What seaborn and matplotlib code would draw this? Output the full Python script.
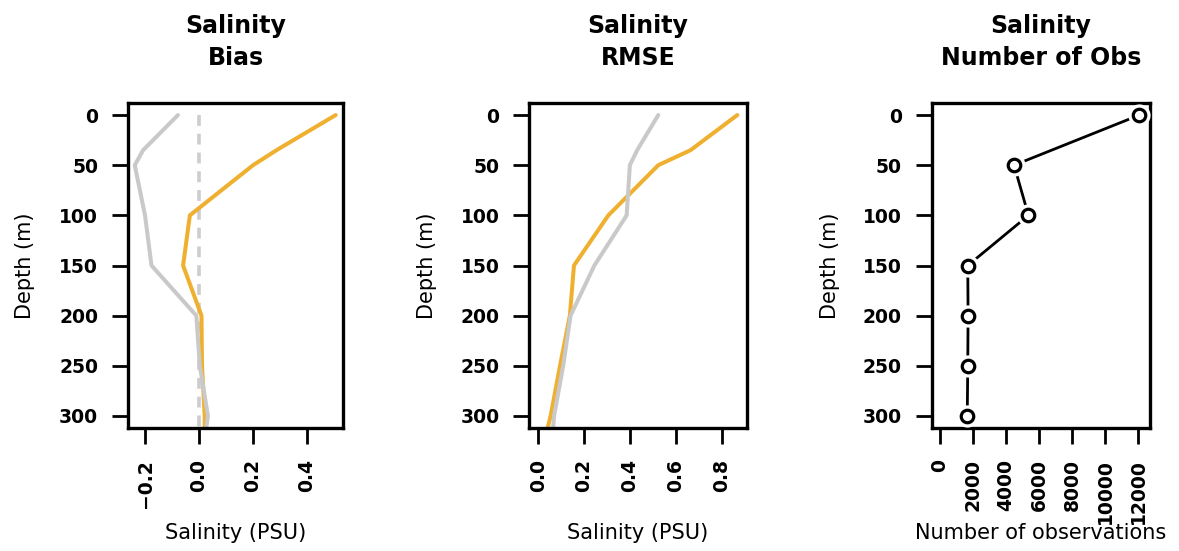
import numpy as np
import pandas as pd
import matplotlib
matplotlib.use("Agg")
import matplotlib.pyplot as plt
import seaborn as sns

# ---------------- data ----------------
depths = [0, 35, 50, 100, 150, 200, 250, 300, 350]
bias_orange = [0.506, 0.287, 0.200, -0.034, -0.059, 0.009, 0.011, 0.021, 0.020]
bias_gray = [-0.078, -0.207, -0.238, -0.200, -0.176, -0.010, 0.003, 0.033, 0.008]
rmse_orange = [0.869, 0.665, 0.524, 0.306, 0.156, 0.138, 0.095, 0.054, 0.000]
rmse_gray = [0.524, 0.432, 0.400, 0.386, 0.245, 0.141, 0.109, 0.069, 0.052]

obs_depths = [0, 50, 100, 150, 200, 250, 300]
obs_counts = [12060, 4480, 5350, 1680, 1700, 1680, 1650]

depth_ticks = [0, 50, 100, 150, 200, 250, 300]
bias_ticks = [-0.2, 0.0, 0.2, 0.4]
bias_ticklabels = ["\u22120.2", "0.0", "0.2", "0.4"]
rmse_ticks = [0.0, 0.2, 0.4, 0.6, 0.8]
rmse_ticklabels = ["0.0", "0.2", "0.4", "0.6", "0.8"]
obs_ticks = [0, 2000, 4000, 6000, 8000, 10000, 12000]
obs_ticklabels = ["0", "2000", "4000", "6000", "8000", "10000", "12000"]

titles = ["Salinity\nBias", "Salinity\nRMSE", "Salinity\nNumber of Obs"]
xlabels = ["Salinity (PSU)", "Salinity (PSU)", "Number of observations"]
ylabel = "Depth (m)"

ORANGE = "#EFB030"
GRAY = "#C9C9C9"

# ---------------- figure ----------------
sns.set_theme(style="white")
plt.rcParams["font.family"] = ["DejaVu Sans"]

W, H = 1179, 551
fig = plt.figure(figsize=(W / 100, H / 100), dpi=100)

boxes = [(128, 343), (529.3, 746.7), (931.7, 1150)]
top_px, bot_px = 103, 428
axes = []
for (l, r) in boxes:
    ax = fig.add_axes([l / W, 1 - bot_px / H, (r - l) / W, (bot_px - top_px) / H])
    axes.append(ax)

df = pd.DataFrame({
    "depth": depths,
    "bias_orange": bias_orange,
    "bias_gray": bias_gray,
    "rmse_orange": rmse_orange,
    "rmse_gray": rmse_gray,
})
dfo = pd.DataFrame({"depth": obs_depths, "count": obs_counts})
zero_ref = pd.DataFrame({"x": [0.0, 0.0], "depth": [depths[0], depths[-1]]})

LW = 2.9
# Panel 1: Bias
ax = axes[0]
sns.lineplot(data=zero_ref, x="x", y="depth", orient="y", sort=False, estimator=None,
             ax=ax, color="#CDCDCD", linewidth=2.6, linestyle=(0, (3.0, 2.2)))
sns.lineplot(data=df, x="bias_orange", y="depth", orient="y", sort=False, estimator=None,
             ax=ax, color=ORANGE, linewidth=LW)
sns.lineplot(data=df, x="bias_gray", y="depth", orient="y", sort=False, estimator=None,
             ax=ax, color=GRAY, linewidth=LW)
ax.set_xlim(-0.263, 0.533)
ax.set_xticks(bias_ticks)
ax.set_xticklabels(bias_ticklabels)

# Panel 2: RMSE
ax = axes[1]
sns.lineplot(data=df, x="rmse_orange", y="depth", orient="y", sort=False, estimator=None,
             ax=ax, color=ORANGE, linewidth=LW)
sns.lineplot(data=df, x="rmse_gray", y="depth", orient="y", sort=False, estimator=None,
             ax=ax, color=GRAY, linewidth=LW)
ax.set_xlim(-0.039, 0.91)
ax.set_xticks(rmse_ticks)
ax.set_xticklabels(rmse_ticklabels)

# Panel 3: Number of obs
ax = axes[2]
sns.lineplot(data=dfo, x="count", y="depth", orient="y", sort=False, estimator=None,
             ax=ax, color="black", linewidth=2.0, zorder=2)
sns.scatterplot(data=dfo, x="count", y="depth", ax=ax, s=16 ** 2, color="white",
                linewidth=0, zorder=3)
sns.scatterplot(data=dfo, x="count", y="depth", ax=ax, s=9 ** 2, facecolor="white",
                edgecolor="black", linewidth=2.3, zorder=4)
ax.set_xlim(-500, 12700)
ax.set_xticks(obs_ticks)
ax.set_xticklabels(obs_ticklabels)

for i, ax in enumerate(axes):
    ax.set_ylim(312, -12)
    ax.set_yticks(depth_ticks)
    ax.set_yticklabels([str(d) for d in depth_ticks])
    for s in ax.spines.values():
        s.set_visible(True)
        s.set_color("black")
        s.set_linewidth(2.4)
    ax.tick_params(axis="both", direction="out", length=11.5, width=2.0, color="black",
                   labelsize=13.5, labelcolor="black", pad=10,
                   bottom=True, left=True, top=False, right=False)
    ax.tick_params(axis="x", labelrotation=90, pad=11)
    for t in ax.get_xticklabels():
        t.set_fontweight("bold")
    for t in ax.get_yticklabels():
        t.set_fontweight("bold")
    ax.set_xlabel(xlabels[i], fontsize=15, color="black")
    ax.set_ylabel(ylabel, fontsize=15, color="black")
    l, r = boxes[i]
    wpx = r - l
    ax.xaxis.set_label_coords(0.5, (bot_px - 533) / (bot_px - top_px))
    ax.xaxis.label.set_va("center")
    ylab_x = [25, 427, 830][i]
    ax.yaxis.set_label_coords((ylab_x - l) / wpx, 0.5)
    ax.yaxis.label.set_va("center")
    ax.set_facecolor("white")
    fig.text(((l + r) / 2) / W, 1 - 42 / H, titles[i], ha="center", va="center",
             fontsize=17, fontweight="bold", linespacing=1.45, color="black")

fig.savefig("out.png", dpi=100, facecolor="white")
